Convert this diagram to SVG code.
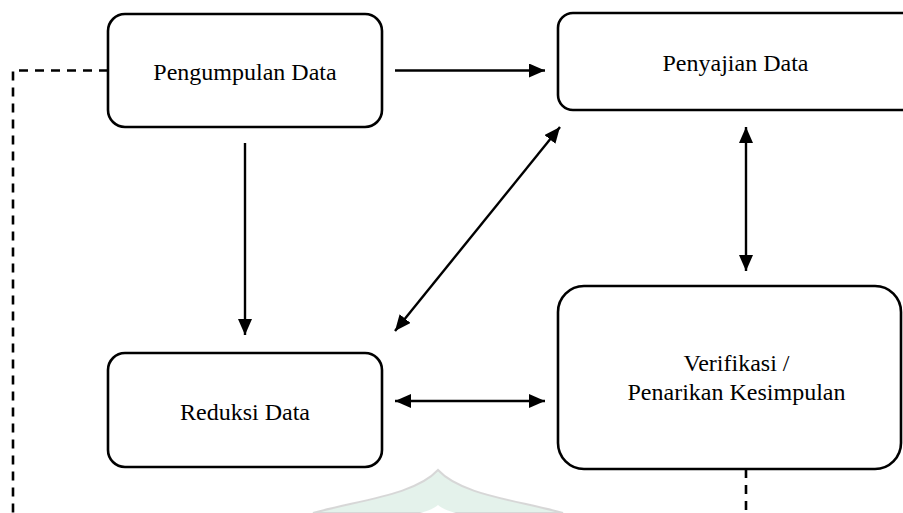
<svg xmlns="http://www.w3.org/2000/svg" width="903" height="513" viewBox="0 0 903 513">
<style>
.box{fill:none;stroke:#000;stroke-width:2.6}
.lbl{font-family:"Liberation Serif","Times New Roman",serif;font-size:24px;fill:#000;text-anchor:middle}
.conn{stroke:#000;stroke-width:2.4;fill:none}
.dash{stroke:#000;stroke-width:2.6;fill:none;stroke-dasharray:9 7}
</style>
<defs>
<marker id="ah" markerUnits="userSpaceOnUse" markerWidth="16" markerHeight="14" refX="16" refY="7" orient="auto-start-reverse" viewBox="0 0 16 14">
<path d="M0,0 L16,7 L0,14 Z" fill="#000"/>
</marker>
</defs>
<g id="watermark" opacity="0.55">
<path d="M313,513 C360,500 415,495 438,470 C461,495 516,500 563,513 Z" fill="#cfe9dc" stroke="#b8b8b8" stroke-width="2"/>
<path d="M420,513 C430,510 435,508 438,505 C441,508 446,510 456,513 Z" fill="#ffffff"/>
</g>
<g id="connectors">
<path class="dash" d="M108,70.5 H13 V513"/>
<path class="dash" d="M746,469 V513"/>
<line class="conn" x1="395" y1="70.5" x2="545" y2="70.5" marker-end="url(#ah)"/>
<line class="conn" x1="245" y1="143" x2="245" y2="335" marker-end="url(#ah)"/>
<line class="conn" x1="395" y1="331" x2="560" y2="127" marker-start="url(#ah)" marker-end="url(#ah)"/>
<line class="conn" x1="746" y1="127" x2="746" y2="271" marker-start="url(#ah)" marker-end="url(#ah)"/>
<line class="conn" x1="395" y1="401" x2="545" y2="401" marker-start="url(#ah)" marker-end="url(#ah)"/>
</g>
<g id="node-pengumpulan">
<rect class="box" x="108" y="14" width="274" height="113" rx="17"/>
<text class="lbl" x="245" y="80">Pengumpulan Data</text>
</g>
<g id="node-penyajian">
<rect class="box" x="558" y="13" width="370" height="97" rx="15"/>
<text class="lbl" x="735.5" y="71">Penyajian Data</text>
</g>
<g id="node-reduksi">
<rect class="box" x="108" y="353" width="274" height="114" rx="17"/>
<text class="lbl" x="245" y="420">Reduksi Data</text>
</g>
<g id="node-verifikasi">
<rect class="box" x="558" y="286" width="343" height="183" rx="26"/>
<text class="lbl" x="736.5" y="371">Verifikasi /</text>
<text class="lbl" x="736.5" y="400">Penarikan Kesimpulan</text>
</g>
</svg>
